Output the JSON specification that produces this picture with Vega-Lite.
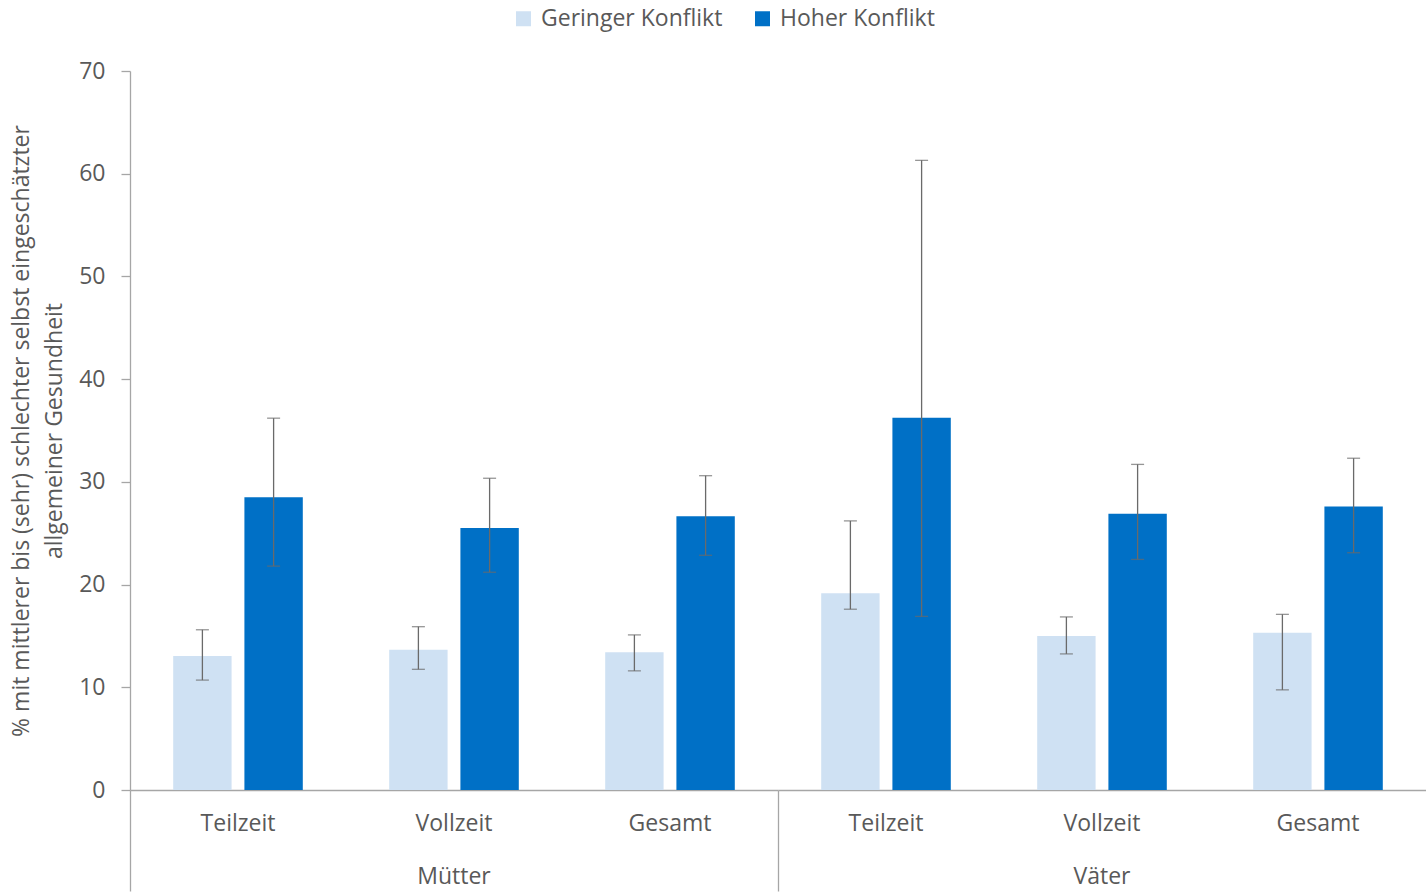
{
  "$schema": "https://vega.github.io/schema/vega-lite/v6.json",
  "padding": {"left": 10, "top": 7, "right": 0, "bottom": 0},
  "background": "white",
  "config": {
    "font": "Open Sans",
    "view": {"stroke": null},
    "axis": {"labelFont": "Open Sans", "titleFont": "Open Sans"},
    "legend": {"labelFont": "Open Sans"}
  },
  "data": {
    "values": [
      {"gruppe": "Mütter", "zeit": "Teilzeit", "konflikt": "Geringer Konflikt", "wert": 13.05, "unten": 10.7, "oben": 15.6},
      {"gruppe": "Mütter", "zeit": "Teilzeit", "konflikt": "Hoher Konflikt", "wert": 28.5, "unten": 21.8, "oben": 36.2},
      {"gruppe": "Mütter", "zeit": "Vollzeit", "konflikt": "Geringer Konflikt", "wert": 13.65, "unten": 11.75, "oben": 15.9},
      {"gruppe": "Mütter", "zeit": "Vollzeit", "konflikt": "Hoher Konflikt", "wert": 25.5, "unten": 21.2, "oben": 30.35},
      {"gruppe": "Mütter", "zeit": "Gesamt", "konflikt": "Geringer Konflikt", "wert": 13.4, "unten": 11.6, "oben": 15.1},
      {"gruppe": "Mütter", "zeit": "Gesamt", "konflikt": "Hoher Konflikt", "wert": 26.65, "unten": 22.85, "oben": 30.6},
      {"gruppe": "Väter", "zeit": "Teilzeit", "konflikt": "Geringer Konflikt", "wert": 19.15, "unten": 17.6, "oben": 26.2},
      {"gruppe": "Väter", "zeit": "Teilzeit", "konflikt": "Hoher Konflikt", "wert": 36.25, "unten": 16.9, "oben": 61.3},
      {"gruppe": "Väter", "zeit": "Vollzeit", "konflikt": "Geringer Konflikt", "wert": 15.0, "unten": 13.25, "oben": 16.85},
      {"gruppe": "Väter", "zeit": "Vollzeit", "konflikt": "Hoher Konflikt", "wert": 26.9, "unten": 22.45, "oben": 31.7},
      {"gruppe": "Väter", "zeit": "Gesamt", "konflikt": "Geringer Konflikt", "wert": 15.3, "unten": 9.75, "oben": 17.1},
      {"gruppe": "Väter", "zeit": "Gesamt", "konflikt": "Hoher Konflikt", "wert": 27.6, "unten": 23.1, "oben": 32.3}
    ]
  },
  "facet": {
    "column": {
      "field": "gruppe",
      "type": "nominal",
      "sort": ["Mütter", "Väter"],
      "header": {
        "title": null,
        "labelOrient": "bottom",
        "labelFont": "Open Sans",
        "labelFontSize": 23,
        "labelColor": "#595959",
        "labelPadding": -26
      }
    }
  },
  "spacing": 0,
  "spec": {
    "width": 648,
    "height": 719,
    "encoding": {
      "x": {
        "field": "zeit",
        "type": "nominal",
        "sort": ["Teilzeit", "Vollzeit", "Gesamt"],
        "scale": {"paddingInner": 0.4, "paddingOuter": 0.2},
        "axis": {
          "title": null,
          "labelAngle": 0,
          "labelFontSize": 23,
          "labelColor": "#595959",
          "domainColor": "#a6a6a6",
          "domainWidth": 1.3,
          "bandPosition": -0.3333,
          "tickSize": 101,
          "tickWidth": 1.3,
          "tickColor": {"condition": {"test": "datum.value === 'Teilzeit'", "value": "#a6a6a6"}, "value": "transparent"},
          "labelPadding": -79
        }
      },
      "xOffset": {
        "field": "konflikt",
        "type": "nominal",
        "sort": ["Geringer Konflikt", "Hoher Konflikt"],
        "scale": {"paddingInner": 0.18}
      }
    },
    "layer": [
      {
        "mark": {"type": "bar"},
        "encoding": {
          "y": {
            "field": "wert",
            "type": "quantitative",
            "scale": {"domain": [0, 70]},
            "axis": {
              "values": [0, 10, 20, 30, 40, 50, 60, 70],
              "grid": false,
              "title": ["% mit mittlerer bis (sehr) schlechter selbst eingeschätzter", "allgemeiner Gesundheit"],
              "titleFontSize": 23,
              "titleFontWeight": "normal",
              "titleColor": "#595959",
              "titlePadding": 12,
              "titleLineHeight": 33,
              "labelFontSize": 23,
              "labelColor": "#595959",
              "labelPadding": 16,
              "tickSize": 9,
              "tickColor": "#a6a6a6",
              "tickWidth": 1.3,
              "domainColor": "#a6a6a6",
              "domainWidth": 1.3
            }
          },
          "color": {
            "field": "konflikt",
            "type": "nominal",
            "sort": ["Geringer Konflikt", "Hoher Konflikt"],
            "scale": {"range": ["#cfe1f3", "#0070c6"]},
            "legend": {
              "title": null,
              "orient": "none",
              "direction": "horizontal",
              "legendX": 382,
              "legendY": -64,
              "symbolType": "square",
              "symbolSize": 225,
              "symbolStrokeWidth": 0,
              "labelFontSize": 23,
              "labelLimit": 400,
              "labelColor": "#595959",
              "labelOffset": 6,
              "columnPadding": 28
            }
          }
        }
      },
      {
        "mark": {"type": "rule", "color": "#6a6a6a", "strokeWidth": 1.3},
        "encoding": {
          "y": {"field": "unten", "type": "quantitative"},
          "y2": {"field": "oben"}
        }
      },
      {
        "mark": {"type": "tick", "orient": "horizontal", "color": "#6a6a6a", "size": 13, "thickness": 1.3},
        "encoding": {
          "y": {"field": "unten", "type": "quantitative"}
        }
      },
      {
        "mark": {"type": "tick", "orient": "horizontal", "color": "#6a6a6a", "size": 13, "thickness": 1.3},
        "encoding": {
          "y": {"field": "oben", "type": "quantitative"}
        }
      }
    ]
  }
}
